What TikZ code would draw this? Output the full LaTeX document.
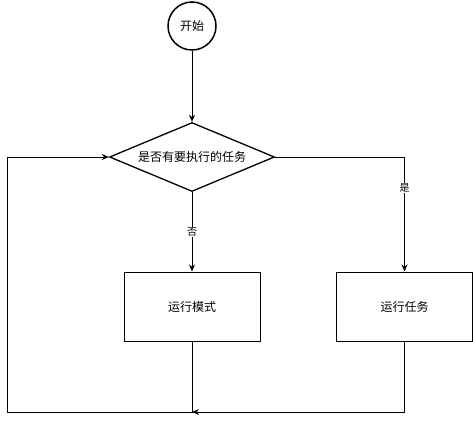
\documentclass[tikz,border=0pt]{standalone}
\usepackage{fontspec}
\newfontfamily\cjk{Noto Sans CJK SC}
\usetikzlibrary{shapes.geometric,arrows.meta}
\begin{document}
\begin{tikzpicture}[x=1pt,y=-1pt,
  every node/.style={font=\cjk\fontsize{12}{14}\selectfont},
  ln/.style={draw=black,line width=1pt},
  arr/.style={ln,-{Stealth[length=7pt,width=6pt,inset=2.2pt]}},
  startc/.style={circle,draw,line width=1.5pt,minimum size=48pt,inner sep=0pt},
  decision/.style={diamond,draw,line width=1.3pt,minimum width=165pt,minimum height=69pt,inner sep=0pt,aspect=2.4},
  procbox/.style={rectangle,draw,line width=1pt,minimum width=136pt,minimum height=69pt,inner sep=0pt},
  lbl/.style={fill=white,inner sep=1pt,font=\cjk\fontsize{10}{12}\selectfont}]
\useasboundingbox (0,0) rectangle (473,420);
\node[startc] (start) at (192,26) {开始};
\node[decision] (dec) at (192,157) {是否有要执行的任务};
\node[procbox] (mode) at (192,306.5) {运行模式};
\node[procbox] (task) at (404.5,306.5) {运行任务};
\coordinate (merge) at (192,412);
\coordinate (lb) at (7,412);
\coordinate (lt) at (7,157);
\coordinate (rt) at (404.5,157);
\coordinate (rb) at (404.5,412);
\draw[arr] (start) -- (dec);
\draw[arr] (dec) -- node[lbl,pos=0.5] {否} (mode);
\draw[arr] (dec.east) -- (rt) -- node[lbl,pos=0.27] {是} (task.north);
\draw[arr] (mode.south) -- (merge) -- (lb) -- (lt) -- (dec.west);
\draw[arr] (task.south) -- (rb) -- (merge);
\end{tikzpicture}
\end{document}
